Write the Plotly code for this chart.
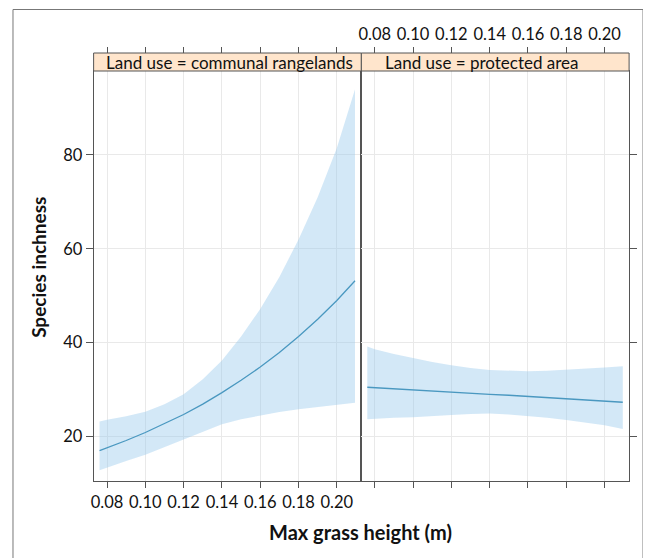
import plotly.graph_objects as go

# ---- data ----
height_m = [0.0761, 0.08, 0.09, 0.10, 0.11, 0.12, 0.13, 0.14, 0.15, 0.16, 0.17, 0.18, 0.19, 0.20, 0.2095]

communal_fit = [17.0, 17.6, 19.15, 20.85, 22.7, 24.7, 26.9, 29.35, 32.0, 34.8, 37.9, 41.3, 45.0, 49.0, 53.2]
communal_upper = [23.2, 23.6, 24.3, 25.3, 26.9, 29.0, 32.2, 36.2, 41.3, 47.2, 54.0, 62.0, 71.0, 81.5, 94.0]
communal_lower = [12.8, 13.4, 14.8, 16.1, 17.7, 19.3, 21.0, 22.6, 23.7, 24.5, 25.2, 25.8, 26.3, 26.8, 27.2]

protected_fit = [30.5, 30.4, 30.2, 29.95, 29.7, 29.5, 29.25, 29.0, 28.8, 28.55, 28.3, 28.1, 27.85, 27.6, 27.3]
protected_upper = [39.2, 38.6, 37.6, 36.7, 35.9, 35.2, 34.6, 34.2, 34.0, 33.9, 34.0, 34.2, 34.4, 34.7, 35.0]
protected_lower = [23.7, 23.8, 24.0, 24.1, 24.4, 24.6, 24.8, 24.9, 24.7, 24.4, 24.0, 23.5, 23.0, 22.4, 21.6]

x_ticks = [0.08, 0.10, 0.12, 0.14, 0.16, 0.18, 0.20]
x_tick_labels = ["0.08", "0.10", "0.12", "0.14", "0.16", "0.18", "0.20"]
y_ticks = [20, 40, 60, 80]
y_tick_labels = ["20", "40", "60", "80"]
panel_labels = ["Land use = communal rangelands", "Land use = protected area"]

# ---- layout helpers (window pixel -> paper); page body has an 8px margin ----
OFF = 8
W, H = 643, 550
def px(x):
    return (x - OFF) / W
def py(y):
    return 1 - (y - OFF) / H

FONT = "Lato"
BAND = "rgba(150,200,235,0.42)"
LINE = "#4a98c0"
AX = "#555555"
GRID = "#e9e9e9"
TXT = "#111111"
XR = [0.0730, 0.2128]
YR = [10.52, 97.9]

fig = go.Figure()

panels = [
    (communal_fit, communal_upper, communal_lower, "x", "y"),
    (protected_fit, protected_upper, protected_lower, "x2", "y2"),
]
for fit, up, lo, xa, ya in panels:
    fig.add_trace(go.Scatter(x=height_m, y=up, mode="lines", line=dict(width=0),
                             xaxis=xa, yaxis=ya, showlegend=False, hoverinfo="skip"))
    fig.add_trace(go.Scatter(x=height_m, y=lo, mode="lines", line=dict(width=0),
                             fill="tonexty", fillcolor=BAND,
                             xaxis=xa, yaxis=ya, showlegend=False, hoverinfo="skip"))
    fig.add_trace(go.Scatter(x=height_m, y=fit, mode="lines", line=dict(color=LINE, width=1.3),
                             xaxis=xa, yaxis=ya, showlegend=False))

# dummy traces for the top tick axes
fig.add_trace(go.Scatter(x=[0.1], y=[None], xaxis="x3", yaxis="y", showlegend=False, hoverinfo="skip"))
fig.add_trace(go.Scatter(x=[0.1], y=[None], xaxis="x4", yaxis="y2", showlegend=False, hoverinfo="skip"))

tickfont = dict(family=FONT, size=16.5, color=TXT)
common_x = dict(range=XR, tickvals=x_ticks, ticktext=x_tick_labels, ticks="outside", ticklen=6,
                tickcolor=AX, tickfont=tickfont, zeroline=False)
pdom = [py(481), py(71)]

fig.update_layout(
    width=W, height=H, margin=dict(l=0, r=0, t=0, b=0),
    paper_bgcolor="white", plot_bgcolor="white",
    xaxis=dict(domain=[px(91), px(360)], anchor="y", showline=True, linecolor=AX, mirror=True,
               showgrid=True, gridcolor=GRID, **common_x),
    xaxis2=dict(domain=[px(360), px(629)], anchor="y2", showline=True, linecolor=AX, mirror=True,
                showgrid=True, gridcolor=GRID, showticklabels=False, **common_x),
    xaxis3=dict(overlaying="x", side="top", anchor="free", position=py(53), showline=False,
                showgrid=False, showticklabels=False, **common_x),
    xaxis4=dict(overlaying="x2", side="top", anchor="free", position=py(53), showline=False,
                showgrid=False, showticklabels=True, **common_x),
    yaxis=dict(domain=pdom, anchor="x", range=YR, tickvals=y_ticks, ticktext=y_tick_labels,
               ticks="outside", ticklen=7, tickcolor=AX, tickfont=tickfont, showline=True,
               linecolor=AX, mirror=True, showgrid=True, gridcolor=GRID, zeroline=False),
    yaxis2=dict(domain=pdom, anchor="x2", range=YR, tickvals=y_ticks, side="right",
                ticks="outside", ticklen=7, tickcolor=AX, showticklabels=False, showline=True,
                linecolor=AX, mirror=True, showgrid=True, gridcolor=GRID, zeroline=False),
)

# strips
for x0, x1 in [(91, 360), (360, 629)]:
    fig.add_shape(type="rect", xref="paper", yref="paper", x0=px(x0), x1=px(x1), y0=py(71), y1=py(53),
                  fillcolor="#ffe5cc", line=dict(color=AX, width=1), layer="above")
fig.add_annotation(text=panel_labels[0], xref="paper", yref="paper", x=px(228), y=py(62.5),
                   xanchor="center", yanchor="middle", showarrow=False,
                   font=dict(family=FONT, size=17, color=TXT))
fig.add_annotation(text=panel_labels[1], xref="paper", yref="paper", x=px(481), y=py(62.5),
                   xanchor="center", yanchor="middle", showarrow=False,
                   font=dict(family=FONT, size=17, color=TXT))

# axis titles
fig.add_annotation(text="<b>Max grass height (m)</b>", xref="paper", yref="paper", x=px(359), y=py(532),
                   xanchor="center", yanchor="middle", showarrow=False,
                   font=dict(family=FONT, size=20, color=TXT))
fig.add_annotation(text="<b>Species inchness</b>", xref="paper", yref="paper", x=px(35), y=py(267),
                   xanchor="center", yanchor="middle", showarrow=False, textangle=-90,
                   font=dict(family=FONT, size=19, color=TXT))

# outer frame (left, top, right edges visible in the window)
fig.add_shape(type="rect", xref="paper", yref="paper", x0=px(10), x1=px(643), y0=py(562), y1=py(9.5),
              line=dict(color="#777777", width=1), fillcolor="rgba(0,0,0,0)", layer="above")

fig.write_html("out.html")
